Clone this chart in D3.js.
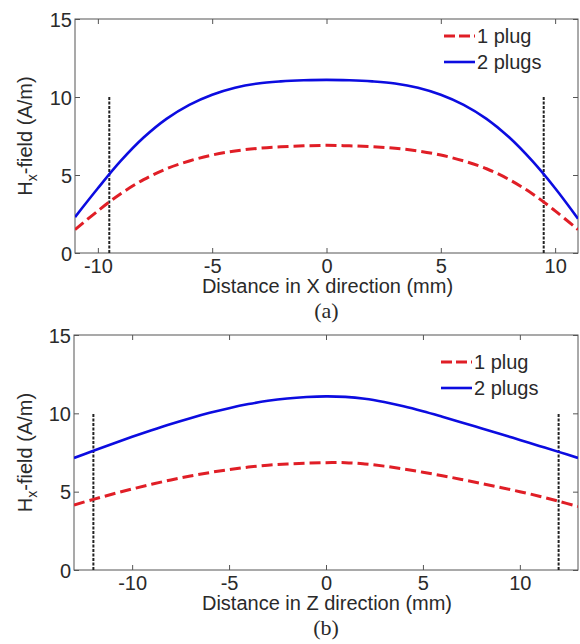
<!DOCTYPE html>
<html>
<head>
<meta charset="utf-8">
<script src="https://cdn.jsdelivr.net/npm/d3@7"></script>
<style>
  html, body { margin: 0; padding: 0; background: #fff; }
  svg { display: block; }
  text { font-family: "Liberation Sans", Arial, sans-serif; fill: #2a2a2a; }
</style>
</head>
<body>
<svg id="chart" width="580" height="644"></svg>
<script>
// ---------- data ----------
const xA = [-11,-10,-9,-8,-7,-6,-5,-4,-3,-2,-1,0,1,2,3,4,5,6,7,8,9,10,11];
const onePlugA = [1.5,2.7,3.8,4.7,5.4,5.9,6.28,6.54,6.71,6.81,6.87,6.9,6.87,6.81,6.71,6.54,6.28,5.9,5.4,4.7,3.8,2.7,1.5];
const twoPlugsA = [2.3,4.15,5.9,7.4,8.6,9.5,10.15,10.6,10.87,11.0,11.07,11.1,11.07,11.0,10.87,10.6,10.15,9.5,8.6,7.4,5.9,4.15,2.2];
const markersA = [-9.5, 9.5];

const xB = [-13,-12,-11,-10,-9,-8,-7,-6,-5,-4,-3,-2,-1,0,1,2,3,4,5,6,7,8,9,10,11,12,13];
const onePlugB = [4.15,4.51,4.85,5.17,5.47,5.75,6.0,6.22,6.41,6.57,6.69,6.77,6.82,6.85,6.85,6.77,6.63,6.45,6.24,6.02,5.78,5.53,5.27,5.0,4.71,4.39,4.05];
const twoPlugsB = [7.15,7.61,8.06,8.5,8.92,9.32,9.69,10.03,10.33,10.59,10.8,10.95,11.04,11.08,11.05,10.93,10.72,10.45,10.13,9.78,9.42,9.05,8.68,8.3,7.92,7.54,7.15];
const markersB = [-12, 12];

const xTicks = [-10,-5,0,5,10];
const yTicks = [0,5,10,15];
const seriesNames = ["1 plug", "2 plugs"];
const panelLabels = ["(a)", "(b)"];
const xTitles = ["Distance in X direction (mm)", "Distance in Z direction (mm)"];

// ---------- drawing ----------
const svg = d3.select("#chart");
const RED = "#e01e26", BLUE = "#0c0ce0", FRAME = "#555";
const fmt = d => String(d);

function panel(cfg) {
  const { left, right, top, bottom, xDom, xs, one, two, markers, xTitle, label, legX, legY } = cfg;
  const x = d3.scaleLinear().domain(xDom).range([left, right]);
  const y = d3.scaleLinear().domain([0, 15]).range([bottom, top]);
  const g = svg.append("g");

  g.append("rect").attr("x", left).attr("y", top).attr("width", right - left).attr("height", bottom - top)
    .attr("fill", "none").attr("stroke", FRAME).attr("stroke-width", 1);

  const ax = (a) => a.tickSizeInner(-5).tickSizeOuter(0);
  const bx = g.append("g").attr("transform", `translate(0,${bottom})`)
    .call(ax(d3.axisBottom(x).tickValues(xTicks).tickFormat(fmt)));
  bx.select(".domain").remove();
  bx.selectAll("line").attr("stroke", FRAME);
  bx.selectAll("text").attr("font-size", 20).attr("dy", 0).attr("y", 20).attr("fill", "#2a2a2a")
    .style("font-family", '"Liberation Sans", Arial, sans-serif');

  const tx = g.append("g").attr("transform", `translate(0,${top})`)
    .call(ax(d3.axisTop(x).tickValues(xTicks)).tickFormat(""));
  tx.select(".domain").remove();
  tx.selectAll("line").attr("stroke", FRAME);

  const ly = g.append("g").attr("transform", `translate(${left},0)`)
    .call(ax(d3.axisLeft(y).tickValues(yTicks).tickFormat(fmt)));
  ly.select(".domain").remove();
  ly.selectAll("line").attr("stroke", FRAME);
  ly.selectAll("text").attr("font-size", 20).attr("x", -3).attr("dy", "0.36em").attr("fill", "#2a2a2a")
    .style("font-family", '"Liberation Sans", Arial, sans-serif');

  const ry = g.append("g").attr("transform", `translate(${right},0)`)
    .call(ax(d3.axisRight(y).tickValues(yTicks)).tickFormat(""));
  ry.select(".domain").remove();
  ry.selectAll("line").attr("stroke", FRAME);

  const cid = "clip" + label.replace(/\W/g, "");
  svg.append("clipPath").attr("id", cid).append("rect")
    .attr("x", left).attr("y", top).attr("width", right - left).attr("height", bottom - top);

  g.selectAll(".mk").data(markers).enter().append("line")
    .attr("x1", d => x(d)).attr("x2", d => x(d)).attr("y1", y(0)).attr("y2", y(10))
    .attr("stroke", "#222").attr("stroke-width", 2).attr("stroke-dasharray", "3,1.5");

  const line = d3.line().x((d, i) => x(xs[i])).y(d => y(d)).curve(d3.curveCatmullRom.alpha(0.5));
  const lines = g.append("g").attr("clip-path", `url(#${cid})`);
  lines.append("path").attr("d", line(two)).attr("fill", "none").attr("stroke", BLUE).attr("stroke-width", 2.6);
  lines.append("path").attr("d", line(one)).attr("fill", "none").attr("stroke", RED).attr("stroke-width", 3)
    .attr("stroke-dasharray", "11,5");

  const leg = g.append("g");
  [[RED, "11,4", seriesNames[0]], [BLUE, null, seriesNames[1]]].forEach((s, i) => {
    const yy = legY + i * 26;
    leg.append("line").attr("x1", legX).attr("x2", legX + 31).attr("y1", yy).attr("y2", yy)
      .attr("stroke", s[0]).attr("stroke-width", i === 0 ? 3 : 2.6)
      .attr("stroke-dasharray", s[1]);
    leg.append("text").attr("x", legX + 33).attr("y", yy + 7).attr("font-size", 20).text(s[2]);
  });

  g.append("text").attr("x", (left + right) / 2 + 1).attr("y", bottom + 40)
    .attr("text-anchor", "middle").attr("font-size", 20).text(xTitle);

  const yt = g.append("text").attr("transform", `translate(32,${(top + bottom) / 2}) rotate(-90)`)
    .attr("text-anchor", "middle").attr("font-size", 20);
  yt.append("tspan").text("H");
  yt.append("tspan").attr("dy", 5).attr("font-size", 14).text("x");
  yt.append("tspan").attr("dy", -5).text("-field (A/m)");

  g.append("text").attr("x", (left + right) / 2).attr("y", bottom + 65)
    .attr("text-anchor", "middle").attr("font-size", 22)
    .style("font-family", '"Liberation Serif", "Times New Roman", serif').attr("fill", "#000").text(label);
}

panel({ left: 75, right: 578, top: 19, bottom: 253, xDom: [-11, 11], xs: xA, one: onePlugA, two: twoPlugsA,
  markers: markersA, xTitle: xTitles[0], label: panelLabels[0], legX: 444, legY: 36 });
panel({ left: 74, right: 578, top: 335, bottom: 570, xDom: [-13, 13], xs: xB, one: onePlugB, two: twoPlugsB,
  markers: markersB, xTitle: xTitles[1], label: panelLabels[1], legX: 441, legY: 362 });
</script>
</body>
</html>
